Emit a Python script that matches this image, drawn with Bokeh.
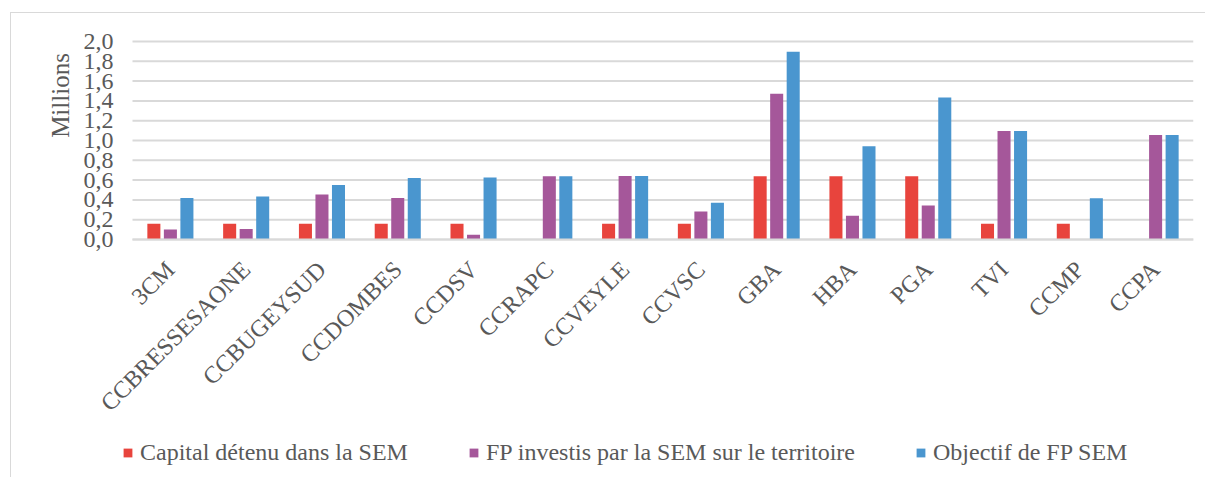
from math import pi
from bokeh.plotting import figure
from bokeh.models import (ColumnDataSource, Range1d, FixedTicker, CustomJSTickFormatter,
                          Legend, LegendItem, Label)
from bokeh.transform import dodge
from bokeh.embed import file_html
from bokeh.resources import INLINE

categories = ["3CM", "CCBRESSESAONE", "CCBUGEYSUD", "CCDOMBES", "CCDSV", "CCRAPC",
              "CCVEYLE", "CCVSC", "GBA", "HBA", "PGA", "TVI", "CCMP", "CCPA"]
capital = [0.16, 0.16, 0.16, 0.16, 0.16, 0.0, 0.16, 0.16, 0.64, 0.64, 0.64, 0.16, 0.16, 0.0]
fp_investis = [0.10, 0.105, 0.455, 0.42, 0.047, 0.638, 0.642, 0.282, 1.472, 0.239, 0.343, 1.096, 0.0, 1.056]
objectif = [0.42, 0.435, 0.55, 0.622, 0.625, 0.638, 0.642, 0.37, 1.896, 0.941, 1.435, 1.096, 0.417, 1.056]
series_names = ["Capital détenu dans la SEM", "FP investis par la SEM sur le territoire", "Objectif de FP SEM"]
y_ticks = [0.0, 0.2, 0.4, 0.6, 0.8, 1.0, 1.2, 1.4, 1.6, 1.8, 2.0]
y_title = "Millions"

colors = ["#E8443D", "#A5579A", "#4A96CF"]
FONT = "Liberation Serif"
TXT = "#595959"
GRID = "#d9d9d9"

n = len(categories)
x_center = [i + 0.5 for i in range(n)]
src = ColumnDataSource(dict(x=x_center, cat=categories, a=capital, b=fp_investis, c=objectif))

# numeric x range: categories occupy [0, n]; the frame extends left, above 2.0 and below zero
# so that tick labels, axis title and legend are drawn inside it without clipping
p = figure(x_range=Range1d(-1.5306, n), y_range=Range1d(-2.3636, 2.2323),
           width=1195, height=465, output_backend="svg", toolbar_location=None,
           min_border_left=5, min_border_right=13, min_border_top=5, min_border_bottom=5)
p.margin = (12, 0, 0, 10)
p.styles = {"border-left": "1px solid #d9d9d9", "border-top": "1px solid #d9d9d9",
            "font-family": "'Liberation Serif', serif"}
p.stylesheets = [":host, :host * { font-family: 'Liberation Serif', serif !important; } "
                 "text { font-family: 'Liberation Serif', serif !important; }"]
p.outline_line_color = None
p.background_fill_color = "white"
p.border_fill_color = "white"
p.xgrid.visible = False
p.ygrid.visible = False

# horizontal gridlines over the category span only
p.segment(x0=0, x1=n, y0=y_ticks, y1=y_ticks, line_color=GRID, line_width=2)

renderers = []
for key, off, col in zip(["a", "b", "c"], [-0.218, 0.0, 0.218], colors):
    r = p.vbar(x=dodge("x", off), top=key, width=0.172, source=src,
               fill_color=col, line_color=None)
    renderers.append(r)

p.yaxis.fixed_location = 0
p.yaxis.ticker = FixedTicker(ticks=y_ticks)
p.yaxis.formatter = CustomJSTickFormatter(code="return tick.toFixed(1).replace('.', ',');")
p.yaxis.axis_line_color = None
p.yaxis.major_tick_line_color = None
p.yaxis.minor_tick_line_color = None
p.yaxis.major_label_text_font = FONT
p.yaxis.major_label_text_font_size = "24px"
p.yaxis.major_label_text_color = TXT
p.yaxis.major_label_standoff = 13

p.xaxis.fixed_location = 0
p.xaxis.bounds = (0, n)
p.xaxis.ticker = FixedTicker(ticks=x_center)
p.xaxis.formatter = CustomJSTickFormatter(args=dict(labels=categories),
                                          code="return labels[Math.floor(tick)];")
p.xaxis.axis_line_color = GRID
p.xaxis.axis_line_width = 2
p.xaxis.major_tick_line_color = None
p.xaxis.minor_tick_line_color = None
p.xaxis.major_label_orientation = pi / 4
p.xaxis.major_label_text_font = FONT
p.xaxis.major_label_text_font_size = "24px"
p.xaxis.major_label_text_color = TXT
p.xaxis.major_label_standoff = 20

title = Label(x=44, y=378, x_units="screen", y_units="screen", text=y_title, angle=pi / 2,
              text_align="center", text_baseline="middle", text_font=FONT,
              text_font_size="25px", text_color=TXT)
p.add_layout(title)

legend = Legend(items=[LegendItem(label=s, renderers=[r]) for s, r in zip(series_names, renderers)],
                location=(106, 7), orientation="horizontal", margin=0, padding=0,
                glyph_width=11, glyph_height=11, label_standoff=7, spacing=60,
                border_line_color=None, background_fill_alpha=0)
legend.label_text_font = FONT
legend.label_text_font_size = "24px"
legend.label_text_font_style = "normal"
legend.label_text_color = TXT
p.add_layout(legend, "center")

open("out.html", "w").write(file_html(p, INLINE))
